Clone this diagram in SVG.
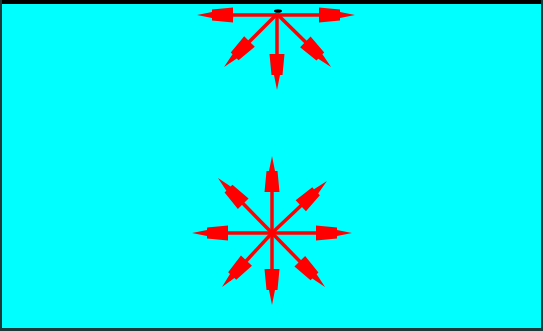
<svg xmlns="http://www.w3.org/2000/svg" width="543" height="331" viewBox="0 0 543 331">
<defs>
<marker id="ah" markerUnits="userSpaceOnUse" markerWidth="50" markerHeight="20" refX="-10" refY="0" orient="auto" overflow="visible">
<path d="M0,0 L-15,-3 L-15,-5.5 L-36,-7.5 L-36,7.5 L-15,5.5 L-15,3 Z" fill="#ff0000"/>
</marker>
<style>
.c line{stroke:#ff0000;stroke-width:3.5;marker-end:url(#ah)}
</style>
</defs>
<rect x="0" y="0" width="543" height="331" fill="#00ffff"/>
<rect x="0" y="0" width="543" height="4" fill="#000"/>
<rect x="0" y="0" width="2" height="331" fill="#1a3a3a"/>
<rect x="541" y="0" width="2" height="331" fill="#1a3a3a"/>
<rect x="0" y="328" width="543" height="3" fill="#1a3a3a"/>
<g id="top-star">
<ellipse cx="278" cy="11" rx="4" ry="1.8" fill="#000"/>
</g>
<g id="bottom-star"/>
<g id="connectors" class="c">
<line x1="277" y1="15" x2="207" y2="15"/>
<line x1="277" y1="15" x2="345" y2="15"/>
<line x1="277" y1="14" x2="277" y2="80"/>
<line x1="277" y1="14" x2="231.1" y2="59.9"/>
<line x1="277" y1="14" x2="323.9" y2="60"/>
<line x1="272" y1="233" x2="202" y2="233"/>
<line x1="272" y1="233" x2="342" y2="233"/>
<line x1="272" y1="233" x2="272" y2="166"/>
<line x1="272" y1="233" x2="272" y2="295"/>
<line x1="272" y1="233" x2="225" y2="185.1"/>
<line x1="272" y1="233" x2="319.7" y2="187.9"/>
<line x1="272" y1="233" x2="228.8" y2="279.7"/>
<line x1="272" y1="233" x2="318" y2="279.9"/>
</g>
</svg>
